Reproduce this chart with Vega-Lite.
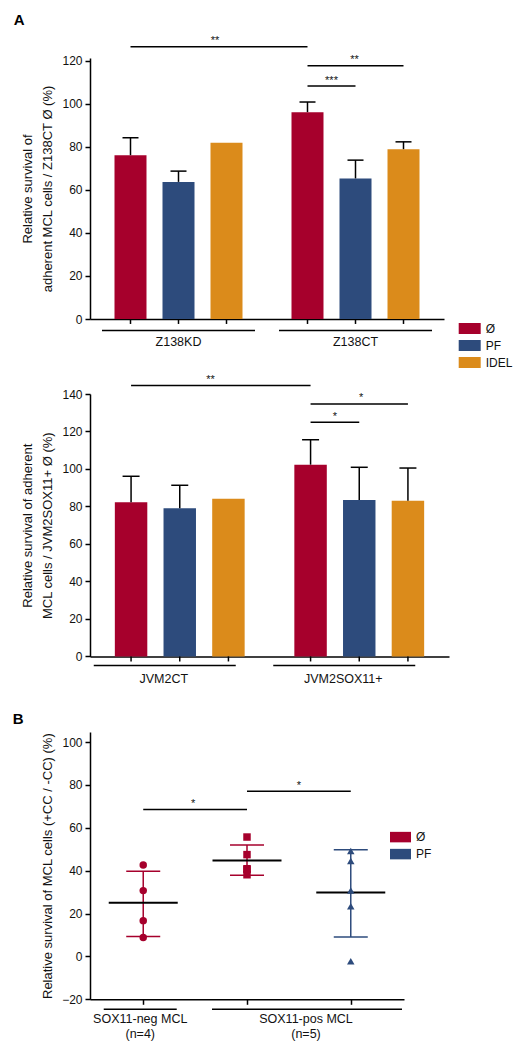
{
  "$schema": "https://vega.github.io/schema/vega-lite/v6.json",
  "padding": {"left": 12, "top": 12, "right": 5, "bottom": 5},
  "background": "white",
  "config": {
    "font": "Liberation Sans",
    "view": {"stroke": null},
    "style": {"guide-label": {"fontSize": 12, "font": "Liberation Sans", "fill": "#111"}, "guide-title": {"fontSize": 13, "font": "Liberation Sans", "fill": "#111", "fontWeight": "normal"}},
    "axis": {"domainColor": "#000", "domainWidth": 1.5, "tickColor": "#000", "tickWidth": 1.5, "tickSize": 5, "labelColor": "#111", "labelFontSize": 12, "labelFont": "Liberation Sans", "titleFont": "Liberation Sans", "titleColor": "#111", "titleFontSize": 13, "titleFontWeight": "normal", "grid": false, "labelPadding": 3, "labelOverlap": false},
    "title": {"font": "Liberation Sans", "color": "#000", "fontSize": 15, "fontWeight": "bold"},
    "text": {"font": "Liberation Sans", "color": "#111"}
  },
  "datasets": {
    "a1bars": [
      {"group": "Z138KD", "treat": "Ø", "mean": 76.1, "upper": 84.2},
      {"group": "Z138KD", "treat": "PF", "mean": 63.7, "upper": 68.7},
      {"group": "Z138KD", "treat": "IDEL", "mean": 81.9, "upper": null},
      {"group": "Z138CT", "treat": "Ø", "mean": 96.1, "upper": 100.8},
      {"group": "Z138CT", "treat": "PF", "mean": 65.3, "upper": 73.8},
      {"group": "Z138CT", "treat": "IDEL", "mean": 78.9, "upper": 82.3}
    ],
    "a1sig": [
      {"cmp": "c1", "group": "Z138KD", "treat": "Ø", "level": 126.5},
      {"cmp": "c1", "group": "Z138CT", "treat": "Ø", "level": 126.5},
      {"cmp": "c2", "group": "Z138CT", "treat": "Ø", "level": 108.2},
      {"cmp": "c2", "group": "Z138CT", "treat": "PF", "level": 108.2},
      {"cmp": "c3", "group": "Z138CT", "treat": "Ø", "level": 117.7},
      {"cmp": "c3", "group": "Z138CT", "treat": "IDEL", "level": 117.7}
    ],
    "a1txt": [
      {"cmp": "c1", "group": "Z138KD", "treat": "IDEL", "level": 126.5, "stars": "**"},
      {"cmp": "c2", "group": "Z138CT", "treat": "Ø", "level": 108.2, "stars": "***"},
      {"cmp": "c3", "group": "Z138CT", "treat": "PF", "level": 117.7, "stars": "**"}
    ],
    "a2bars": [
      {"group": "JVM2CT", "treat": "Ø", "mean": 82.2, "upper": 96.1},
      {"group": "JVM2CT", "treat": "PF", "mean": 79.0, "upper": 91.3},
      {"group": "JVM2CT", "treat": "IDEL", "mean": 84.1, "upper": null},
      {"group": "JVM2SOX11+", "treat": "Ø", "mean": 102.3, "upper": 115.6},
      {"group": "JVM2SOX11+", "treat": "PF", "mean": 83.4, "upper": 100.9},
      {"group": "JVM2SOX11+", "treat": "IDEL", "mean": 83.1, "upper": 100.5}
    ],
    "a2sig": [
      {"cmp": "c1", "group": "JVM2CT", "treat": "Ø", "level": 144.5},
      {"cmp": "c1", "group": "JVM2SOX11+", "treat": "Ø", "level": 144.5},
      {"cmp": "c2", "group": "JVM2SOX11+", "treat": "Ø", "level": 124.9},
      {"cmp": "c2", "group": "JVM2SOX11+", "treat": "PF", "level": 124.9},
      {"cmp": "c3", "group": "JVM2SOX11+", "treat": "Ø", "level": 134.7},
      {"cmp": "c3", "group": "JVM2SOX11+", "treat": "IDEL", "level": 134.7}
    ],
    "a2txt": [
      {"cmp": "c1", "group": "JVM2CT", "treat": "IDEL", "level": 144.5, "stars": "**"},
      {"cmp": "c2", "group": "JVM2SOX11+", "treat": "Ø", "level": 124.9, "stars": "*"},
      {"cmp": "c3", "group": "JVM2SOX11+", "treat": "PF", "level": 134.7, "stars": "*"}
    ],
    "bpts": [
      {"col": "SOX11-neg Ø", "treat": "Ø", "value": 42.6},
      {"col": "SOX11-neg Ø", "treat": "Ø", "value": 30.7},
      {"col": "SOX11-neg Ø", "treat": "Ø", "value": 16.7},
      {"col": "SOX11-neg Ø", "treat": "Ø", "value": 8.8},
      {"col": "SOX11-pos Ø", "treat": "Ø", "value": 55.7},
      {"col": "SOX11-pos Ø", "treat": "Ø", "value": 47.5},
      {"col": "SOX11-pos Ø", "treat": "Ø", "value": 40.9},
      {"col": "SOX11-pos Ø", "treat": "Ø", "value": 40.6},
      {"col": "SOX11-pos Ø", "treat": "Ø", "value": 38.1},
      {"col": "SOX11-pos PF", "treat": "PF", "value": 49.2},
      {"col": "SOX11-pos PF", "treat": "PF", "value": 44.5},
      {"col": "SOX11-pos PF", "treat": "PF", "value": 30.8},
      {"col": "SOX11-pos PF", "treat": "PF", "value": 23.4},
      {"col": "SOX11-pos PF", "treat": "PF", "value": -2.3}
    ],
    "bstats": [
      {"col": "SOX11-neg Ø", "treat": "Ø", "mean": 25.0, "lo": 9.3, "hi": 39.7},
      {"col": "SOX11-pos Ø", "treat": "Ø", "mean": 44.7, "lo": 37.9, "hi": 52.0},
      {"col": "SOX11-pos PF", "treat": "PF", "mean": 29.8, "lo": 9.1, "hi": 49.8}
    ],
    "bsig": [
      {"cmp": "b1", "col": "SOX11-neg Ø", "level": 68.5},
      {"cmp": "b1", "col": "SOX11-pos Ø", "level": 68.5},
      {"cmp": "b2", "col": "SOX11-pos Ø", "level": 77.1},
      {"cmp": "b2", "col": "SOX11-pos PF", "level": 77.1}
    ],
    "btxt": [
      {"cmp": "b1", "col": "SOX11-neg Ø", "level": 68.5, "stars": "*"},
      {"cmp": "b2", "col": "SOX11-pos Ø", "level": 77.1, "stars": "*"}
    ],
    "bgroups": [
      {"grp": "neg", "col": "SOX11-neg Ø", "label": "SOX11-neg MCL\n(n=4)"},
      {"grp": "pos", "col": "SOX11-pos Ø", "label": "SOX11-pos MCL\n(n=5)"}
    ]
  },
  "vconcat": [
    {
      "width": 354,
      "height": 261,
      "title": {"text": "A", "anchor": "start", "frame": "group", "dx": -76.3, "offset": -4.4, "baseline": "alphabetic"},
      "layer": [
        {
          "data": {"name": "a1bars"},
          "mark": {"type": "bar"},
          "encoding": {
            "x": {"field": "group", "type": "nominal", "sort": null, "scale": {"domain": ["Z138KD", "Z138CT"], "paddingInner": 0.2768, "paddingOuter": 0.1384}, "axis": {"title": null, "ticks": false, "labelPadding": 16.5, "labelFontSize": 12.5, "labelAngle": 0}},
            "xOffset": {"field": "treat", "type": "nominal", "sort": null, "scale": {"domain": ["Ø", "PF", "IDEL"], "paddingInner": 0.3333, "paddingOuter": 0}},
            "y": {"field": "mean", "type": "quantitative", "scale": {"domain": [0, 121.25], "nice": false, "zero": false}, "axis": {"values": [0, 20, 40, 60, 80, 100, 120], "tickCount": 7, "labelFontSize": 12, "labelOverlap": false, "title": ["Relative survival of", "adherent MCL cells / Z138CT Ø (%)"], "titleFontSize": 13, "titlePadding": 7.5, "titleLineHeight": 19.5}},
            "color": {"field": "treat", "type": "nominal", "sort": null, "scale": {"domain": ["Ø", "PF", "IDEL"], "range": ["#A6002C", "#2D4B7C", "#DB8B1B"]}, "legend": {"title": null, "orient": "none", "legendX": 368.7, "legendY": 259.5, "symbolType": "M-1,-0.5H1V0.5H-1Z", "symbolSize": 484, "symbolStrokeWidth": 0, "rowPadding": -4, "labelOffset": 5, "labelFontSize": 12, "labelColor": "#111", "labelFont": "Liberation Sans", "padding": 0}}
          }
        },
        {
          "data": {"name": "a1bars"},
          "transform": [{"filter": "datum.upper != null"}],
          "mark": {"type": "rule", "color": "#000", "strokeWidth": 1.5},
          "encoding": {
            "x": {"field": "group", "type": "nominal", "sort": null},
            "xOffset": {"field": "treat", "type": "nominal", "sort": null},
            "y": {"field": "mean", "type": "quantitative"},
            "y2": {"field": "upper"}
          }
        },
        {
          "data": {"name": "a1bars"},
          "transform": [{"filter": "datum.upper != null"}],
          "mark": {"type": "tick", "orient": "horizontal", "color": "#000", "size": 16, "thickness": 1.5, "opacity": 1},
          "encoding": {
            "x": {"field": "group", "type": "nominal", "sort": null},
            "xOffset": {"field": "treat", "type": "nominal", "sort": null},
            "y": {"field": "upper", "type": "quantitative"}
          }
        },
        {
          "data": {"name": "a1bars"},
          "mark": {"type": "rule", "color": "#000", "strokeWidth": 1.5},
          "encoding": {
            "x": {"field": "group", "type": "nominal", "sort": null},
            "xOffset": {"field": "treat", "type": "nominal", "sort": null},
            "y": {"datum": 0, "type": "quantitative"},
            "y2": {"datum": -2.3}
          }
        },
        {
          "data": {"name": "a1bars"},
          "transform": [{"aggregate": [{"op": "count", "as": "n"}], "groupby": ["group"]}],
          "mark": {"type": "tick", "orient": "horizontal", "color": "#000", "size": 153, "thickness": 1.5, "opacity": 1},
          "encoding": {
            "x": {"field": "group", "type": "nominal", "sort": null},
            "y": {"datum": -5.4, "type": "quantitative"}
          }
        },
        {
          "data": {"name": "a1sig"},
          "mark": {"type": "line", "color": "#000", "strokeWidth": 1.5},
          "encoding": {
            "x": {"field": "group", "type": "nominal", "sort": null},
            "xOffset": {"field": "treat", "type": "nominal", "sort": null},
            "y": {"field": "level", "type": "quantitative"},
            "detail": {"field": "cmp"}
          }
        },
        {
          "data": {"name": "a1txt"},
          "transform": [{"filter": "datum.cmp == 'c1'"}],
          "mark": {"type": "text", "fontSize": 11, "dx": -11.5, "dy": -2.5, "baseline": "alphabetic"},
          "encoding": {
            "x": {"field": "group", "type": "nominal", "sort": null},
            "xOffset": {"field": "treat", "type": "nominal", "sort": null},
            "y": {"field": "level", "type": "quantitative"},
            "text": {"field": "stars"}
          }
        },
        {
          "data": {"name": "a1txt"},
          "transform": [{"filter": "datum.cmp == 'c2'"}],
          "mark": {"type": "text", "fontSize": 11, "dx": 24, "dy": -2.5, "baseline": "alphabetic"},
          "encoding": {
            "x": {"field": "group", "type": "nominal", "sort": null},
            "xOffset": {"field": "treat", "type": "nominal", "sort": null},
            "y": {"field": "level", "type": "quantitative"},
            "text": {"field": "stars"}
          }
        },
        {
          "data": {"name": "a1txt"},
          "transform": [{"filter": "datum.cmp == 'c3'"}],
          "mark": {"type": "text", "fontSize": 11, "dx": -1, "dy": -2.5, "baseline": "alphabetic"},
          "encoding": {
            "x": {"field": "group", "type": "nominal", "sort": null},
            "xOffset": {"field": "treat", "type": "nominal", "sort": null},
            "y": {"field": "level", "type": "quantitative"},
            "text": {"field": "stars"}
          }
        }
      ]
    },
    {
      "width": 359,
      "height": 262.4,
      "layer": [
        {
          "data": {"name": "a2bars"},
          "mark": {"type": "bar"},
          "encoding": {
            "x": {"field": "group", "type": "nominal", "sort": null, "scale": {"domain": ["JVM2CT", "JVM2SOX11+"], "paddingInner": 0.2768, "paddingOuter": 0.1384}, "axis": {"title": null, "ticks": false, "labelPadding": 16.5, "labelFontSize": 12.5, "labelAngle": 0, "labelOffset": -16}},
            "xOffset": {"field": "treat", "type": "nominal", "sort": null, "scale": {"domain": ["Ø", "PF", "IDEL"], "paddingInner": 0.3333, "paddingOuter": 0}},
            "y": {"field": "mean", "type": "quantitative", "scale": {"domain": [0, 140], "nice": false, "zero": false}, "axis": {"values": [0, 20, 40, 60, 80, 100, 120, 140], "tickCount": 8, "labelFontSize": 12, "labelOverlap": false, "title": ["Relative survival of adherent", "MCL cells / JVM2SOX11+ Ø (%)"], "titleFontSize": 13, "titlePadding": 7.5, "titleLineHeight": 20}},
            "color": {"field": "treat", "type": "nominal", "sort": null, "scale": {"domain": ["Ø", "PF", "IDEL"], "range": ["#A6002C", "#2D4B7C", "#DB8B1B"]}, "legend": null}
          }
        },
        {
          "data": {"name": "a2bars"},
          "transform": [{"filter": "datum.upper != null"}],
          "mark": {"type": "rule", "color": "#000", "strokeWidth": 1.5},
          "encoding": {
            "x": {"field": "group", "type": "nominal", "sort": null},
            "xOffset": {"field": "treat", "type": "nominal", "sort": null},
            "y": {"field": "mean", "type": "quantitative"},
            "y2": {"field": "upper"}
          }
        },
        {
          "data": {"name": "a2bars"},
          "transform": [{"filter": "datum.upper != null"}],
          "mark": {"type": "tick", "orient": "horizontal", "color": "#000", "size": 17, "thickness": 1.5, "opacity": 1},
          "encoding": {
            "x": {"field": "group", "type": "nominal", "sort": null},
            "xOffset": {"field": "treat", "type": "nominal", "sort": null},
            "y": {"field": "upper", "type": "quantitative"}
          }
        },
        {
          "data": {"name": "a2bars"},
          "mark": {"type": "rule", "color": "#000", "strokeWidth": 1.5},
          "encoding": {
            "x": {"field": "group", "type": "nominal", "sort": null},
            "xOffset": {"field": "treat", "type": "nominal", "sort": null},
            "y": {"datum": 0, "type": "quantitative"},
            "y2": {"datum": -2.7}
          }
        },
        {
          "data": {"name": "a2bars"},
          "transform": [{"aggregate": [{"op": "count", "as": "n"}], "groupby": ["group"]}],
          "mark": {"type": "tick", "orient": "horizontal", "color": "#000", "size": 142, "thickness": 1.5, "opacity": 1, "xOffset": -15},
          "encoding": {
            "x": {"field": "group", "type": "nominal", "sort": null},
            "y": {"datum": -4.9, "type": "quantitative"}
          }
        },
        {
          "data": {"name": "a2sig"},
          "mark": {"type": "line", "color": "#000", "strokeWidth": 1.5},
          "encoding": {
            "x": {"field": "group", "type": "nominal", "sort": null},
            "xOffset": {"field": "treat", "type": "nominal", "sort": null},
            "y": {"field": "level", "type": "quantitative"},
            "detail": {"field": "cmp"}
          }
        },
        {
          "data": {"name": "a2txt"},
          "transform": [{"filter": "datum.cmp == 'c1'"}],
          "mark": {"type": "text", "fontSize": 11, "dx": -18, "dy": -2.5, "baseline": "alphabetic"},
          "encoding": {
            "x": {"field": "group", "type": "nominal", "sort": null},
            "xOffset": {"field": "treat", "type": "nominal", "sort": null},
            "y": {"field": "level", "type": "quantitative"},
            "text": {"field": "stars"}
          }
        },
        {
          "data": {"name": "a2txt"},
          "transform": [{"filter": "datum.cmp == 'c2'"}],
          "mark": {"type": "text", "fontSize": 11, "dx": 24.4, "dy": -2.5, "baseline": "alphabetic"},
          "encoding": {
            "x": {"field": "group", "type": "nominal", "sort": null},
            "xOffset": {"field": "treat", "type": "nominal", "sort": null},
            "y": {"field": "level", "type": "quantitative"},
            "text": {"field": "stars"}
          }
        },
        {
          "data": {"name": "a2txt"},
          "transform": [{"filter": "datum.cmp == 'c3'"}],
          "mark": {"type": "text", "fontSize": 11, "dx": 2, "dy": -2.5, "baseline": "alphabetic"},
          "encoding": {
            "x": {"field": "group", "type": "nominal", "sort": null},
            "xOffset": {"field": "treat", "type": "nominal", "sort": null},
            "y": {"field": "level", "type": "quantitative"},
            "text": {"field": "stars"}
          }
        }
      ]
    },
    {
      "width": 314,
      "height": 267.3,
      "title": {"text": "B", "anchor": "start", "frame": "group", "dx": -77.3, "offset": -6.6, "baseline": "alphabetic"},
      "layer": [
        {
          "data": {"name": "bstats"},
          "mark": {"type": "rule", "strokeWidth": 1.5},
          "encoding": {
            "x": {"field": "col", "type": "nominal", "sort": null, "scale": {"type": "point", "domain": ["SOX11-neg Ø", "SOX11-pos Ø", "SOX11-pos PF"], "padding": 0.513}, "axis": {"title": null, "labels": false, "ticks": true, "tickSize": 5}},
            "y": {"field": "lo", "type": "quantitative", "scale": {"domain": [-20, 104.7], "nice": false, "zero": false}, "axis": {"values": [-20, 0, 20, 40, 60, 80, 100], "tickCount": 7, "labelFontSize": 12, "labelOverlap": false, "title": "Relative survival of MCL cells (+CC / -CC) (%)", "titleFontSize": 13, "titlePadding": 7}},
            "y2": {"field": "hi"},
            "color": {"field": "treat", "type": "nominal", "sort": null, "scale": {"domain": ["Ø", "PF"], "range": ["#A6002C", "#2D4B7C"]}, "legend": {"title": null, "orient": "none", "legendX": 300, "legendY": 94.6, "symbolType": "M-1,-0.5H1V0.5H-1Z", "symbolSize": 441, "symbolStrokeWidth": 0, "symbolOpacity": 1, "rowPadding": -3.5, "labelOffset": 5, "labelFontSize": 12, "labelColor": "#111", "labelFont": "Liberation Sans", "padding": 0}}
          }
        },
        {
          "data": {"name": "bstats"},
          "mark": {"type": "tick", "orient": "horizontal", "size": 34, "thickness": 1.5, "opacity": 1},
          "encoding": {
            "x": {"field": "col", "type": "nominal", "sort": null},
            "y": {"field": "lo", "type": "quantitative"},
            "color": {"field": "treat", "type": "nominal", "sort": null}
          }
        },
        {
          "data": {"name": "bstats"},
          "mark": {"type": "tick", "orient": "horizontal", "size": 34, "thickness": 1.5, "opacity": 1},
          "encoding": {
            "x": {"field": "col", "type": "nominal", "sort": null},
            "y": {"field": "hi", "type": "quantitative"},
            "color": {"field": "treat", "type": "nominal", "sort": null}
          }
        },
        {
          "data": {"name": "bstats"},
          "mark": {"type": "tick", "orient": "horizontal", "size": 69, "thickness": 2, "color": "#000", "opacity": 1},
          "encoding": {
            "x": {"field": "col", "type": "nominal", "sort": null},
            "y": {"field": "mean", "type": "quantitative"}
          }
        },
        {
          "data": {"name": "bpts"},
          "mark": {"type": "point", "filled": true, "opacity": 1, "size": 56},
          "encoding": {
            "x": {"field": "col", "type": "nominal", "sort": null},
            "y": {"field": "value", "type": "quantitative"},
            "color": {"field": "treat", "type": "nominal", "sort": null},
            "shape": {"field": "col", "type": "nominal", "sort": null, "scale": {"domain": ["SOX11-neg Ø", "SOX11-pos Ø", "SOX11-pos PF"], "range": ["circle", "square", "triangle-up"]}, "legend": null}
          }
        },
        {
          "data": {"name": "bsig"},
          "mark": {"type": "line", "color": "#000", "strokeWidth": 1.5},
          "encoding": {
            "x": {"field": "col", "type": "nominal", "sort": null},
            "y": {"field": "level", "type": "quantitative"},
            "detail": {"field": "cmp"}
          }
        },
        {
          "data": {"name": "btxt"},
          "transform": [{"filter": "datum.cmp == 'b1'"}],
          "mark": {"type": "text", "fontSize": 11, "dx": 50, "dy": -2.5, "baseline": "alphabetic"},
          "encoding": {
            "x": {"field": "col", "type": "nominal", "sort": null},
            "y": {"field": "level", "type": "quantitative"},
            "text": {"field": "stars"}
          }
        },
        {
          "data": {"name": "btxt"},
          "transform": [{"filter": "datum.cmp == 'b2'"}],
          "mark": {"type": "text", "fontSize": 11, "dx": 52, "dy": -2.5, "baseline": "alphabetic"},
          "encoding": {
            "x": {"field": "col", "type": "nominal", "sort": null},
            "y": {"field": "level", "type": "quantitative"},
            "text": {"field": "stars"}
          }
        },
        {
          "data": {"name": "bgroups"},
          "transform": [{"filter": "datum.grp == 'neg'"}],
          "mark": {"type": "tick", "orient": "horizontal", "size": 73, "thickness": 1.5, "color": "#000", "opacity": 1, "xOffset": -3},
          "encoding": {
            "x": {"field": "col", "type": "nominal", "sort": null},
            "y": {"datum": -24.7, "type": "quantitative"}
          }
        },
        {
          "data": {"name": "bgroups"},
          "transform": [{"filter": "datum.grp == 'pos'"}],
          "mark": {"type": "tick", "orient": "horizontal", "size": 190, "thickness": 1.5, "color": "#000", "opacity": 1, "xOffset": 60},
          "encoding": {
            "x": {"field": "col", "type": "nominal", "sort": null},
            "y": {"datum": -24.7, "type": "quantitative"}
          }
        },
        {
          "data": {"name": "bgroups"},
          "transform": [{"filter": "datum.grp == 'neg'"}],
          "mark": {"type": "text", "fontSize": 12.5, "lineBreak": "\n", "lineHeight": 15, "baseline": "top", "dy": 13.5, "dx": -3},
          "encoding": {
            "x": {"field": "col", "type": "nominal", "sort": null},
            "y": {"datum": -20, "type": "quantitative"},
            "text": {"field": "label"}
          }
        },
        {
          "data": {"name": "bgroups"},
          "transform": [{"filter": "datum.grp == 'pos'"}],
          "mark": {"type": "text", "fontSize": 12.5, "lineBreak": "\n", "lineHeight": 15, "baseline": "top", "dy": 13.5, "dx": 59},
          "encoding": {
            "x": {"field": "col", "type": "nominal", "sort": null},
            "y": {"datum": -20, "type": "quantitative"},
            "text": {"field": "label"}
          }
        }
      ]
    }
  ],
  "spacing": 75,
  "bounds": "flush",
  "resolve": {
    "scale": {"x": "independent", "y": "independent", "xOffset": "independent", "color": "independent", "shape": "independent"},
    "legend": {"color": "independent"}
  }
}
